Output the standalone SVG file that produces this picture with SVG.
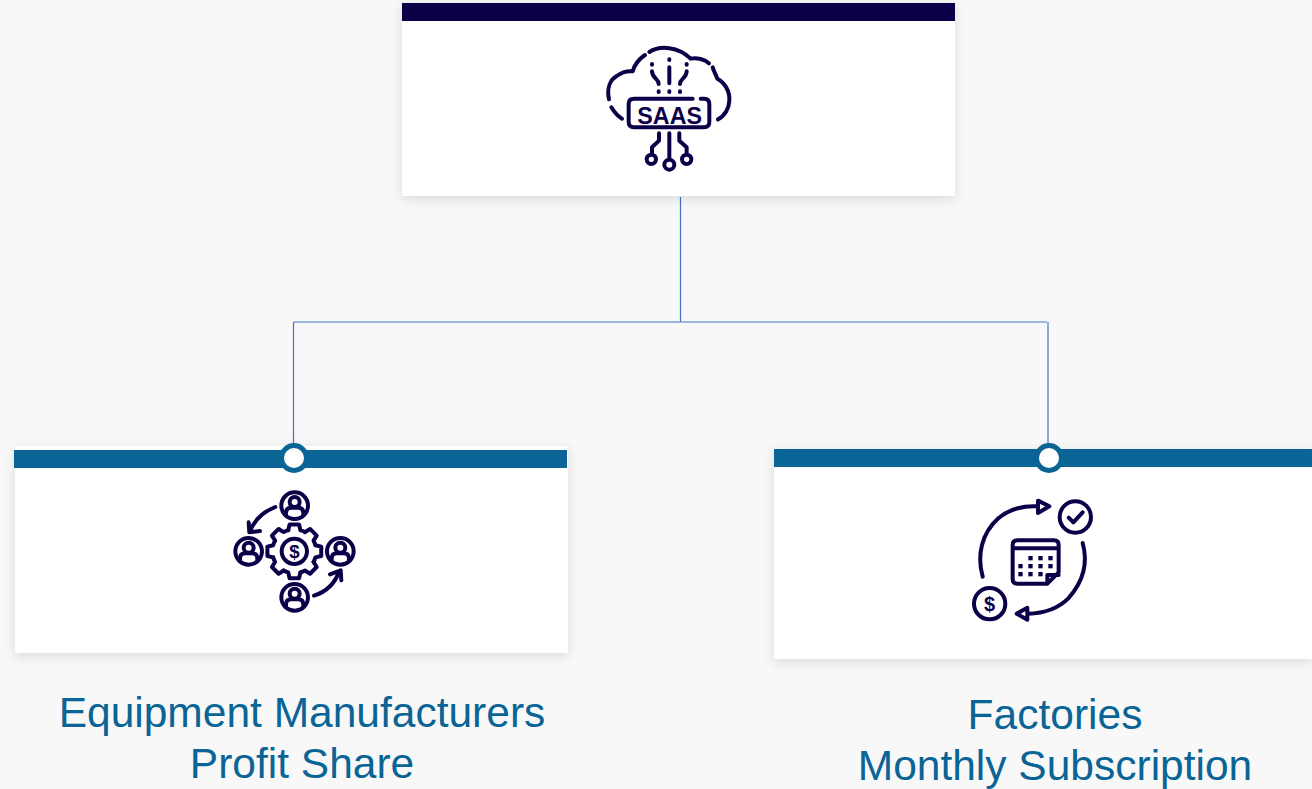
<svg xmlns="http://www.w3.org/2000/svg" width="1312" height="789" viewBox="0 0 1312 789">
<style>
.card{fill:#fff;filter:url(#sh)}
.ic{fill:none;stroke:#0c0048;stroke-width:12;stroke-linecap:round;stroke-linejoin:round}
.icf{fill:#0c0048;stroke:none}
.conn{fill:none;stroke:#4472c4;stroke-width:1.2}
.lab{font-family:"Liberation Sans",Arial,sans-serif;font-size:42.5px;fill:#0a6496;text-anchor:middle}
.node{fill:#fff;stroke:#0a6496;stroke-width:5}
</style>
<defs>
<filter id="sh" x="-5%" y="-10%" width="110%" height="120%"><feDropShadow dx="0" dy="3" stdDeviation="6" flood-color="#000" flood-opacity="0.12"/></filter>
<g id="person"><circle r="40" class="ic"/><circle cx="0" cy="-11" r="15" class="ic"/><path class="ic" d="M-26 29V22Q-26 6 -10 6H10Q26 6 26 22V29"/></g>
<path id="tooth" class="ic" d="M63.4 -18.2L80.8 -14.2V14.2L63.4 18.2A66 66 0 0 1 57.7 32"/>
</defs>
<rect width="1312" height="789" fill="#f8f8f8"/>
<g id="connectors" class="conn">
<path d="M680.5 197V322M293.5 322H1047M293.5 322V446M1048 322V446"/>
</g>
<g id="node-saas">
<rect class="card" x="402" y="3" width="553" height="193"/>
<rect x="402" y="3" width="553" height="18" fill="#0c0048"/>
<g transform="translate(590 30) scale(.3333)">
<path class="ic" d="M57 208C50 175 60 150 80 138C95 127 112 122 128 124C135 100 150 85 165 75M178 66C210 45 265 50 302 86C320 82 345 88 357 100M368 112C372 125 378 135 382 146C405 158 420 185 418 212C417 235 405 258 384 268M64 232C72 245 82 258 96 266"/>
<path class="ic" d="M308 206H132Q116 206 116 222V276Q116 292 132 292H342Q358 292 358 276V222Q358 206 342 206H332"/>
<path class="ic" d="M238 88V90M238 112V160M238 184V186M186 102V104M186 124C186 145 206 145 206 162M206 184V186M290 102V104M290 124C290 145 270 145 270 162M270 184V186"/>
<text x="239" y="281" font-family="'Liberation Sans',Arial,sans-serif" font-weight="bold" font-size="70" fill="#0c0048" text-anchor="middle" textLength="194" lengthAdjust="spacingAndGlyphs">SAAS</text>
<path class="ic" d="M207 310V332L186 352V368M238 310V384M268 310V332L290 352V368"/>
<circle class="ic" cx="184" cy="388" r="14"/><circle class="ic" cx="238" cy="404" r="15"/><circle class="ic" cx="290" cy="388" r="14"/>
</g>
</g>
<g id="node-equipment">
<rect class="card" x="15" y="446" width="553" height="207"/>
<rect x="14" y="450" width="553" height="18" fill="#0a6496"/>
<circle class="node" cx="294" cy="458" r="12.5"/>
<g transform="translate(220 435) scale(.3333)">
<use href="#person" x="224" y="212"/>
<use href="#person" x="86" y="349"/>
<use href="#person" x="361" y="349"/>
<use href="#person" x="224" y="487"/>
<path class="ic" d="M166 216C130 230 104 255 90 288M86 262L88 292L120 288M282 482C320 470 345 445 358 408M330 418L362 406L364 436"/>
<g transform="translate(223 349)">
<use href="#tooth"/><use href="#tooth" transform="rotate(45)"/><use href="#tooth" transform="rotate(90)"/><use href="#tooth" transform="rotate(135)"/><use href="#tooth" transform="rotate(180)"/><use href="#tooth" transform="rotate(225)"/><use href="#tooth" transform="rotate(270)"/><use href="#tooth" transform="rotate(315)"/>
</g>
<circle class="ic" cx="223" cy="349" r="38"/>
<text x="223" y="369" font-family="'Liberation Sans',Arial,sans-serif" font-weight="bold" font-size="56" fill="#0c0048" text-anchor="middle">$</text>
</g>
</g>
<g id="node-factories">
<rect class="card" x="774" y="449" width="538" height="210"/>
<rect x="774" y="449" width="538" height="18" fill="#0a6496"/>
<circle class="node" cx="1049" cy="458" r="12.5"/>
<g transform="translate(960 435) scale(.3333)">
<path class="ic" d="M68 425C50 360 65 295 115 250C150 220 190 212 232 214"/>
<path class="ic" d="M234 197L268 214L234 234Z"/>
<path class="ic" d="M368 324C385 385 370 440 325 490C290 525 245 535 204 536"/>
<path class="ic" d="M202 518L170 536L202 554Z"/>
<circle class="ic" cx="346" cy="246" r="47"/>
<path class="ic" d="M326 248L340 262L368 232"/>
<circle class="ic" cx="89" cy="506" r="47"/>
<text x="89" y="527" font-family="'Liberation Sans',Arial,sans-serif" font-weight="bold" font-size="60" fill="#0c0048" text-anchor="middle">$</text>
<path class="ic" d="M262 446H172Q158 446 158 432V330Q158 316 172 316H282Q296 316 296 330V412ZM158 340H296M262 446V420H296"/>
<g class="icf">
<rect x="205" y="363" width="13" height="13"/><rect x="235" y="363" width="13" height="13"/><rect x="265" y="363" width="13" height="13"/>
<rect x="175" y="387" width="13" height="13"/><rect x="205" y="387" width="13" height="13"/><rect x="235" y="387" width="13" height="13"/><rect x="265" y="387" width="13" height="13"/>
<rect x="175" y="411" width="13" height="13"/><rect x="205" y="411" width="13" height="13"/><rect x="235" y="411" width="13" height="13"/>
</g>
</g>
</g>
<g id="label-equipment"><text class="lab" x="302" y="727">Equipment Manufacturers</text><text class="lab" x="302" y="778">Profit Share</text></g>
<g id="label-factories"><text class="lab" x="1055" y="729">Factories</text><text class="lab" x="1055" y="780">Monthly Subscription</text></g>
</svg>
